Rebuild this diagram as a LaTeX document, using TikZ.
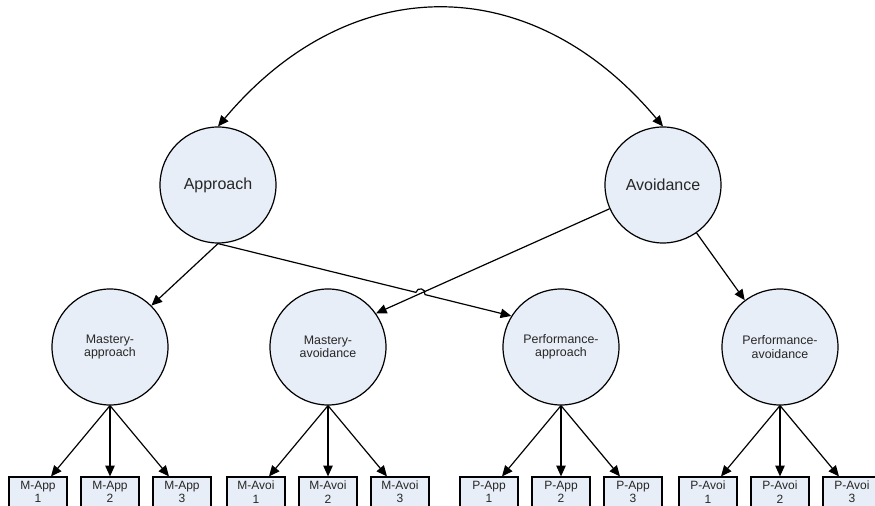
\documentclass[tikz,border=0pt]{standalone}
\usepackage{fontspec}
\setmainfont{Liberation Sans}
\usetikzlibrary{arrows.meta,calc}
\definecolor{factorfill}{HTML}{E8EEF7}
\tikzset{
  factor/.style={circle,draw,fill=factorfill,minimum size=87pt,inner sep=0pt,align=center,text=black!85},
  item/.style={rectangle,draw,fill=factorfill,minimum width=43.5pt,minimum height=22.5pt,inner sep=0pt,align=center,text=black!85,font=\fontsize{9}{10}\selectfont},
}
\begin{document}
\begin{tikzpicture}[x=0.75pt,y=0.75pt,line width=0.9pt,>={Triangle[length=8pt,width=7pt]}]
\useasboundingbox (0,0) rectangle (875,506);
\clip (0,0) rectangle (875,506);
% higher order factors
\node[factor,font=\fontsize{12}{14}\selectfont] (app) at (218,321) {Approach};
\node[factor,font=\fontsize{12}{14}\selectfont] (avo) at (663,321) {Avoidance};
% first order factors
\node[factor,font=\fontsize{9.3}{10}\selectfont] (mapp) at (110,159) {Mastery-\\approach};
\node[factor,font=\fontsize{9.3}{10}\selectfont] (mavo) at (328,159) {Mastery-\\avoidance};
\node[factor,font=\fontsize{9.3}{10}\selectfont] (papp) at (561,159) {Performance-\\approach};
\node[factor,font=\fontsize{9.3}{10}\selectfont] (pavo) at (780,159) {Performance-\\avoidance};

\draw[<->] (app.north) to[out=50,in=130,looseness=1.18] (avo.north); % correlation
\draw[->] (app.south) -- (mapp.45);
\draw[->] (avo.204) -- (mavo.35);
\draw[->] (avo.-55) -- (pavo.127);
\coordinate (hop) at (intersection cs: first line={(app.south)--(papp.148)}, second line={(avo.204)--(mavo.35)});
\draw[->] (app.south) -- ($(hop)!3.5pt!(app.south)$) to[out=76,in=76,looseness=1.7] ($(hop)!3.5pt!(papp.148)$) -- (papp.148); % jump over the crossing

% items, three for each factor
\foreach \f/\lbl/\x in {mapp/M-App/110,mavo/M-Avoi/328,papp/P-App/561,pavo/P-Avoi/780}
\foreach \k/\d in {1/-72,2/0,3/72}
{
\node[item] (\f\k) at (\x+\d,14) {\lbl\\\k};
\draw[->] (\f.south) -- (\f\k);
}
\end{tikzpicture}
\end{document}
